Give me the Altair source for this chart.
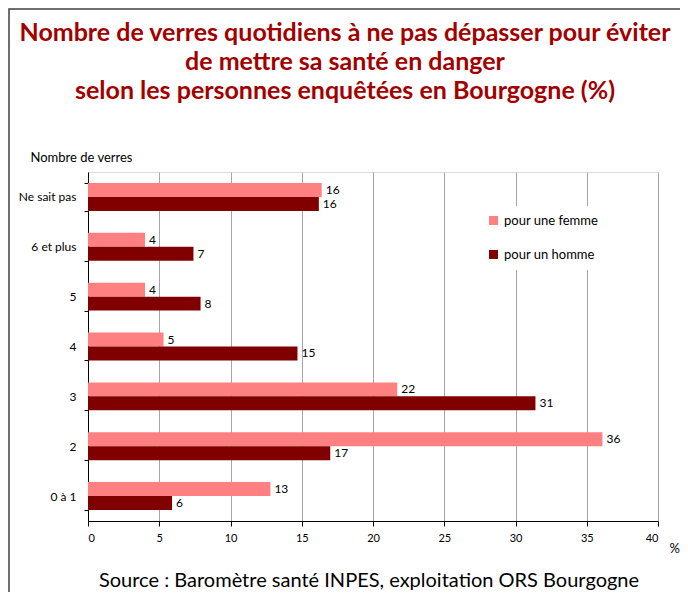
import altair as alt
import pandas as pd

categories = ["Ne sait pas", "6 et plus", "5", "4", "3", "2", "0 à 1"]
femme = [16.4, 4.0, 4.0, 5.3, 21.7, 36.1, 12.8]
homme = [16.2, 7.4, 7.9, 14.7, 31.4, 17.0, 5.9]
series = ["pour une femme", "pour un homme"]
colors = ["#FF8080", "#800000"]
x_ticks = [0, 5, 10, 15, 20, 25, 30, 35, 40]
title_lines = [
    "Nombre de verres quotidiens à ne pas dépasser pour éviter",
    "de mettre sa santé en danger",
    "selon les personnes enquêtées en Bourgogne (%)",
]
source_text = ["Source : Baromètre santé INPES, exploitation ORS Bourgogne"]

FONT = "Lato"

rows = []
for c, f, h in zip(categories, femme, homme):
    rows.append({"cat": c, "serie": series[0], "val": f})
    rows.append({"cat": c, "serie": series[1], "val": h})
df = pd.DataFrame(rows)

x_enc = alt.X(
    "val:Q",
    scale=alt.Scale(domain=[0, 40], nice=False),
    axis=alt.Axis(
        values=x_ticks,
        title="%",
        titleX=581,
        titleY=31,
        titleAlign="left",
        titleBaseline="alphabetic",
        titleFont=FONT,
        titleFontSize=13,
        titleFontWeight="normal",
        titleColor="black",
        labelFont=FONT,
        labelFontSize=11,
        labelColor="black",
        labelPadding=6,
        tickSize=5,
        tickColor="black",
        domainColor="black",
        grid=True,
        gridColor="#A6A6A6",
        gridWidth=1,
    ),
)

y_enc = alt.Y(
    "cat:N",
    sort=categories,
    scale=alt.Scale(paddingInner=0.44, paddingOuter=0.22),
    axis=alt.Axis(
        title="Nombre de verres",
        titleAngle=0,
        titleAlign="left",
        titleBaseline="alphabetic",
        titleX=-58,
        titleY=-11,
        titleFont=FONT,
        titleFontSize=13,
        titleFontWeight="normal",
        titleColor="black",
        labelFont=FONT,
        labelFontSize=12,
        labelColor="black",
        labelPadding=8,
        tickBand="extent",
        tickSize=4,
        tickColor="black",
        domainColor="black",
        grid=False,
    ),
)

yoff = alt.YOffset("serie:N", sort=series, scale=alt.Scale(paddingInner=0, paddingOuter=0))

bars = alt.Chart(df).mark_bar().encode(
    x=x_enc,
    y=y_enc,
    yOffset=yoff,
    color=alt.Color(
        "serie:N",
        scale=alt.Scale(domain=series, range=colors),
        legend=alt.Legend(
            title=None,
            orient="none",
            legendX=391,
            legendY=34,
            fillColor="white",
            padding=8,
            symbolType="square",
            symbolSize=81,
            symbolStrokeWidth=0,
            symbolOpacity=1,
            labelFont=FONT,
            labelFontSize=13,
            labelColor="black",
            rowPadding=20,
            labelOffset=4,
        ),
    ),
)

labels = alt.Chart(df).mark_text(
    align="left", baseline="middle", dx=4, font=FONT, fontSize=12, color="black"
).encode(
    x=alt.X("val:Q"),
    y=alt.Y("cat:N", sort=categories),
    yOffset=yoff,
    text=alt.Text("val:Q", format=".0f"),
)

source = alt.Chart(pd.DataFrame({"t": source_text})).mark_text(
    align="center", baseline="alphabetic", font=FONT, fontSize=20, color="black"
).encode(x=alt.value(281), y=alt.value(415), text="t:N")

frame = alt.Chart(pd.DataFrame({"a": [0]})).mark_rect(
    fillOpacity=0, stroke="#404040", strokeWidth=1.5
).encode(x=alt.value(-79), x2=alt.value(700), y=alt.value(-163), y2=alt.value(460))

chart = alt.layer(frame, bars, labels, source).properties(
    width=570,
    height=349,
    padding={"left": 80, "top": 164, "right": 22, "bottom": 71},
    autosize=alt.AutoSizeParams(type="none"),
    title=alt.TitleParams(
        text=title_lines,
        font=FONT,
        fontSize=25,
        fontWeight="bold",
        color="#A30000",
        anchor="middle",
        frame="group",
        dx=-28,
        lineHeight=29,
        baseline="top",
        offset=-96,
    ),
).configure_view(stroke=None).configure(background="white")

chart.save("out.html", embed_options={"renderer": "svg", "actions": False})
